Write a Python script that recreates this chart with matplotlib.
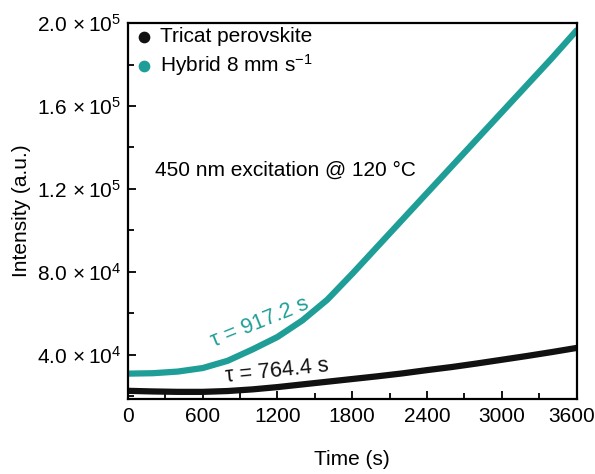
import numpy as np
import matplotlib
matplotlib.use("Agg")
import matplotlib.pyplot as plt
import matplotlib.transforms as mtransforms
from matplotlib.ticker import MultipleLocator, FuncFormatter

plt.rcParams['font.family'] = ['Liberation Sans', 'DejaVu Sans']
plt.rcParams['mathtext.fontset'] = 'custom'
plt.rcParams['mathtext.rm'] = 'Liberation Sans'
plt.rcParams['mathtext.it'] = 'Liberation Sans:italic'

# time (s)
time_s = [0, 200, 400, 600, 800, 1000, 1200, 1400, 1600, 1800,
          2000, 2200, 2400, 2600, 2800, 3000, 3200, 3400, 3600]
# intensity (a.u.)
tricat = [22500, 22200, 22000, 22000, 22400, 23200, 24300, 25600, 26900, 28200,
          29500, 30900, 32500, 34000, 35700, 37500, 39300, 41200, 43200]
hybrid = [30800, 31000, 31800, 33500, 37000, 42500, 48500, 56500, 66500, 79000,
          92000, 105000, 118000, 131000, 144000, 157000, 170000, 183000, 196500]

teal = '#1f9e98'

fig = plt.figure(figsize=(5.95, 4.74), dpi=100)
ax = fig.add_axes([0.215, 0.158, 0.754, 0.793])

ax.plot(time_s, tricat, color='#111111', lw=4.5, solid_capstyle='round',
        solid_joinstyle='round')
ax.plot(time_s, hybrid, color=teal, lw=4.5, solid_capstyle='round',
        solid_joinstyle='round')

ax.set_xlim(0, 3600)
ax.set_ylim(18500, 200000)
ax.set_xticks([0, 600, 1200, 1800, 2400, 3000, 3600])
ax.xaxis.set_minor_locator(MultipleLocator(300))
ax.yaxis.set_minor_locator(MultipleLocator(20000))
ax.set_yticks([40000, 80000, 120000, 160000, 200000])


def sci(v, pos):
    e = int(np.floor(np.log10(v)))
    m = v / 10 ** e
    return r'%.1f$\,\times$10$^{%d}$' % (m, e)


ax.yaxis.set_major_formatter(FuncFormatter(sci))
ax.tick_params(which='both', direction='in', labelsize=15, top=False, right=False)
ax.tick_params(which='major', length=6, width=1.3)
ax.tick_params(axis='x', which='major', pad=6)
ax.tick_params(axis='y', which='major', pad=5)
ax.tick_params(which='minor', length=4, width=1.3)
for s in ax.spines.values():
    s.set_linewidth(1.6)

ax.set_xlabel('Time (s)', fontsize=15, labelpad=17)
ax.set_ylabel('Intensity (a.u.)', fontsize=15, labelpad=4)

# legend
ax.scatter([], [], s=55, color='#111111', label='Tricat perovskite')
ax.scatter([], [], s=55, color=teal, label=r'Hybrid 8 mm s$^{-1}$')
ax.legend(loc='upper left', frameon=False, fontsize=15, handletextpad=0.25,
          borderaxespad=0.0, labelspacing=0.25, borderpad=0.2, handlelength=1.1)

ax.text(0.06, 0.609, '450 nm excitation @ 120 \u00b0C', transform=ax.transAxes,
        fontsize=15, ha='left', va='center')
ax.text(1060, 55500, '\u03c4 = 917.2 s', color=teal, fontsize=15.5,
        rotation=22, ha='center', va='center')
ax.text(1200, 31800, '\u03c4 = 764.4 s', color='#111111', fontsize=15.5,
        rotation=6, ha='center', va='center')

# nudge last x label so it stays inside the figure
fig.canvas.draw()
last = ax.xaxis.get_major_ticks()[-1].label1
last.set_transform(last.get_transform() +
                   mtransforms.ScaledTranslation(-5 / 100, 0, fig.dpi_scale_trans))

fig.savefig('out.png', dpi=100)
